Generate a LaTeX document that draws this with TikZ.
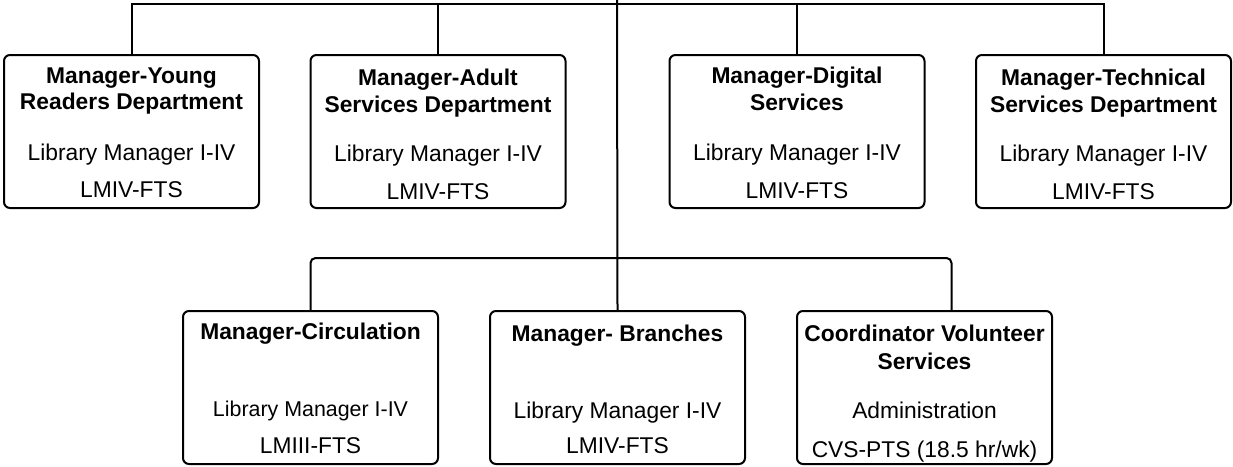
\documentclass[tikz,border=0pt]{standalone}
\usepackage{fontspec}
\setmainfont{Liberation Sans}
\begin{document}
\begin{tikzpicture}[x=1pt,y=-1pt,
  box/.style={draw, line width=2pt, rounded corners=6pt, minimum width=255pt, minimum height=153pt, inner sep=0pt},
  conn/.style={draw, line width=2pt},
  ttl/.style={anchor=base, inner sep=0pt, font=\fontsize{22.8}{27}\selectfont\bfseries},
  txt/.style={anchor=base, inner sep=0pt, font=\fontsize{22.8}{27}\selectfont},
  smalltxt/.style={anchor=base, inner sep=0pt, font=\fontsize{21.4}{27}\selectfont}]
\useasboundingbox (0,0) rectangle (1233,466);
% boxes
\node[box] (b1) at (131.5,131.5) {};
\node[box] (b2) at (438,131.5) {};
\node[box] (b3) at (797,131.5) {};
\node[box] (b4) at (1103.5,131.5) {};
\node[box] (b5) at (310.5,387.5) {};
\node[box] (b6) at (617.5,387.5) {};
\node[box] (b7) at (924.5,387.5) {};
% texts box 1
\node[ttl] (t1a) at (131.5,83) {Manager-Young};
\node[ttl] (t1b) at (131.5,109) {Readers Department};
\node[txt] (t1c) at (131.5,160) {Library Manager I-IV};
\node[txt] (t1d) at (131.5,197) {LMIV-FTS};
% box 2
\node[ttl] (t2a) at (438,85) {Manager-Adult};
\node[ttl] (t2b) at (438,112) {Services Department};
\node[txt] (t2c) at (438,161) {Library Manager I-IV};
\node[txt] (t2d) at (438,199) {LMIV-FTS};
% box 3
\node[ttl] (t3a) at (797,83) {Manager-Digital};
\node[ttl] (t3b) at (797,110) {Services};
\node[txt] (t3c) at (797,160) {Library Manager I-IV};
\node[txt] (t3d) at (797,198) {LMIV-FTS};
% box 4
\node[ttl] (t4a) at (1103.5,85) {Manager-Technical};
\node[ttl] (t4b) at (1103.5,112) {Services Department};
\node[txt] (t4c) at (1103.5,161) {Library Manager I-IV};
\node[txt] (t4d) at (1103.5,199) {LMIV-FTS};
% box 5
\node[ttl] (t5a) at (310.5,339) {Manager-Circulation};
\node[smalltxt] (t5c) at (310.5,416) {Library Manager I-IV};
\node[txt] (t5d) at (310.5,453) {LMIII-FTS};
% box 6
\node[ttl] (t6a) at (617.5,341) {Manager- Branches};
\node[txt] (t6c) at (617.5,418) {Library Manager I-IV};
\node[txt] (t6d) at (617.5,453) {LMIV-FTS};
% box 7
\node[ttl] (t7a) at (924.5,341) {Coordinator Volunteer};
\node[ttl] (t7b) at (924.5,369) {Services};
\node[txt] (t7c) at (924.5,418) {Administration};
\node[txt] (t7d) at (924.5,457) {CVS-PTS (18.5 hr/wk)};
% connectors
\coordinate (top) at (617,0);
\coordinate (bus) at (617,4);
\coordinate (mid) at (617,258);
\coordinate (b7in) at (951.5,311);
\draw[conn] (b1.north) |- (bus) -| (b4.north);
\draw[conn] (b2.north) -- (b2.north |- bus);
\draw[conn] (b3.north) -- (b3.north |- bus);
\draw[conn] (top) -- (b6.north);
\draw[conn, rounded corners=5pt] (b5.north) |- (mid) -| (b7in);
\end{tikzpicture}
\end{document}
